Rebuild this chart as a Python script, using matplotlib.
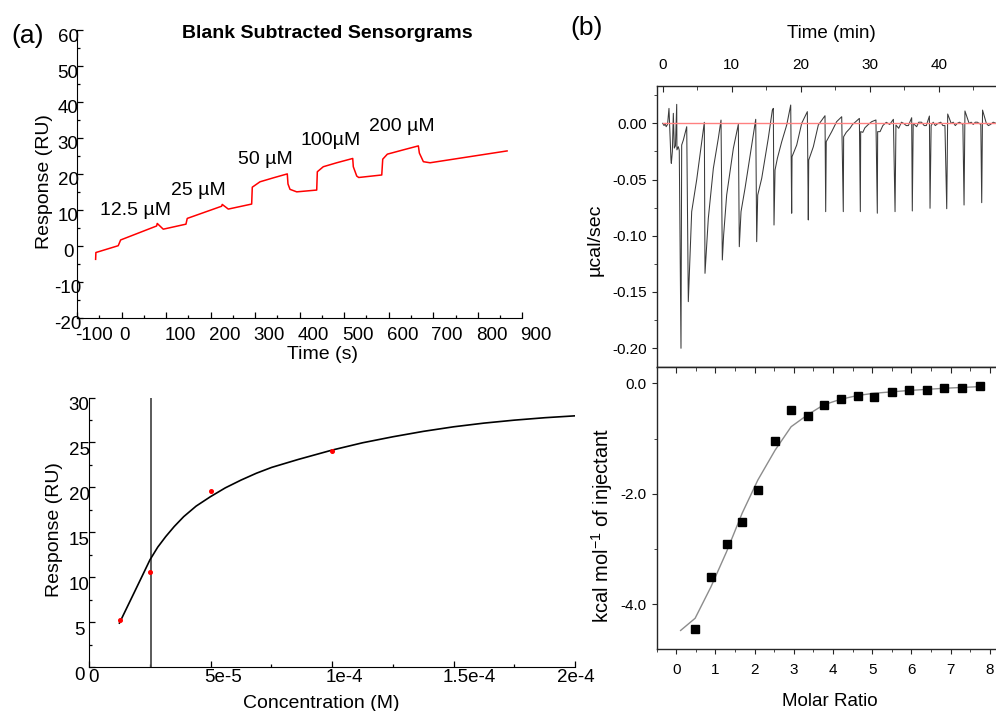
import matplotlib
matplotlib.use("Agg")
import matplotlib.pyplot as plt
from matplotlib.ticker import MultipleLocator, FormatStrFormatter
from matplotlib.transforms import ScaledTranslation, blended_transform_factory

plt.rcParams['font.family'] = ['Liberation Sans', 'DejaVu Sans']
plt.rcParams['axes.unicode_minus'] = False
plt.rcParams['mathtext.fontset'] = 'custom'
plt.rcParams['mathtext.rm'] = 'Liberation Sans'
plt.rcParams['mathtext.it'] = 'Liberation Sans:italic'
plt.rcParams['mathtext.bf'] = 'Liberation Sans:bold'

# ---------------- data ----------------
# (a) top: blank-subtracted sensorgram
spr_time = [-58.4, -57.8, -7.6, -2.2, 78.7, 80.0, 93.5, 144.5, 147.4, 224.7, 226.0,
            239.6, 292.1, 293.5, 310.8, 340.7, 372.1, 373.7, 378.2, 393.3, 438.2,
            439.6, 453.0, 483.1, 519.1, 520.4, 528.1, 532.6, 584.3, 586.5, 596.9,
            632.8, 666.5, 668.8, 677.8, 692.8, 865.8]
spr_signal = [-3.8, -1.9, 0.0, 1.6, 5.5, 6.2, 4.6, 6.0, 7.6, 11.0, 11.5,
              10.2, 11.6, 16.3, 17.8, 18.9, 20.0, 17.2, 15.7, 15.0, 15.5,
              20.6, 22.0, 23.1, 24.3, 22.0, 19.4, 19.0, 19.7, 24.1, 25.5,
              26.7, 27.8, 25.8, 23.4, 23.1, 26.4]
spr_conc_labels = ['12.5 µM', '25 µM', '50 µM', '100µM', '200 µM']
spr_xticks = [-100, 0, 100, 200, 300, 400, 500, 600, 700, 800, 900]
spr_xticklabels = ['-100', '0', '100', '200', '300', '400', '500', '600', '700', '800', '900']
spr_yticks = [-20, -10, 0, 10, 20, 30, 40, 50, 60]
spr_yticklabels = ['-20', '-10', '0', '10', '20', '30', '40', '50', '60']

# (a) bottom: steady-state affinity
aff_conc = [1.25e-5, 2.5e-5, 5e-5, 1e-4]
aff_resp = [5.2, 10.6, 19.6, 24.1]
aff_fit_conc = [1.244e-5, 1.55e-5, 1.84e-5, 2.17e-5, 2.50e-5, 2.82e-5, 3.15e-5, 3.50e-5,
                3.89e-5, 4.40e-5, 4.99e-5, 5.60e-5, 6.25e-5, 6.88e-5, 7.51e-5, 8.61e-5,
                1.0e-4, 1.125e-4, 1.25e-4, 1.375e-4, 1.5e-4, 1.625e-4, 1.75e-4, 1.875e-4, 2.0e-4]
aff_fit_resp = [4.89, 6.60, 8.22, 10.07, 11.93, 13.34, 14.52, 15.64,
                16.74, 17.91, 18.96, 19.94, 20.81, 21.57, 22.22, 23.11,
                24.15, 24.96, 25.63, 26.23, 26.74, 27.15, 27.48, 27.75, 27.96]
aff_kd_line = 2.55e-5
aff_xticks = [0, 5e-5, 1e-4, 1.5e-4, 2e-4]
aff_xticklabels = ['0', '5e-5', '1e-4', '1.5e-4', '2e-4']
aff_yticks = [0, 5, 10, 15, 20, 25, 30]
aff_yticklabels = ['0', '5', '10', '15', '20', '25', '30']

# (b) top: ITC raw thermogram (time in min, power in µcal/sec)
itc_time = [0.0, 0.2, 0.35, 0.5, 0.7, 0.91, 1.20, 1.25, 1.40, 1.54, 1.68, 1.85, 2.03, 2.06, 2.26, 2.40,
            2.65, 2.75, 2.99, 3.48,
            3.71, 4.20, 4.93, 5.65, 6.03,
            6.13, 6.61, 7.34, 8.06, 8.45,
            8.64, 8.83, 9.27, 10.24, 10.96,
            11.10, 11.35, 11.93, 12.90, 13.48,
            13.62, 13.77, 14.35, 15.30, 15.89, 16.03,
            16.13, 16.28, 16.62, 17.25, 17.97, 18.55,
            18.69, 18.74, 19.42, 20.14, 20.96,
            21.10, 21.16, 21.83, 22.55, 23.52,
            23.62, 23.70, 24.49, 25.21, 25.94,
            26.17, 26.22, 26.6, 27.14, 27.5, 27.87, 28.50,
            28.64, 28.69, 29.0, 29.30, 29.8, 30.29, 30.90,
            31.10, 31.15, 31.50, 31.9, 32.40, 32.9, 33.43,
            33.67, 33.80, 34.20, 34.6, 34.90, 35.3, 35.60, 36.08,
            36.17, 36.30, 36.80, 37.1, 37.50, 37.9, 38.20, 38.65,
            38.74, 38.90, 39.2, 39.50, 39.9, 40.30, 40.6, 40.90,
            41.16, 41.30, 41.80, 42.1, 42.40, 42.7, 43.00, 43.50,
            43.67, 43.80, 44.40, 44.7, 45.00, 45.3, 45.60, 46.10,
            46.23, 46.35, 46.90, 47.2, 47.50, 47.9, 48.30]
itc_power = [0.000, -0.002, 0.000, -0.003, -0.001, 0.0133, -0.0327, -0.0356, -0.025, 0.0089, -0.022, -0.020, 0.0169, -0.0236, -0.0208, -0.024,
             -0.2002, -0.0193, -0.0149, -0.003,
             -0.1587, -0.0786, -0.050, -0.0163, 0.0009,
             -0.1335, -0.0845, -0.040, -0.0133, 0.0029,
             -0.1216, -0.0994, -0.0638, -0.0222, -0.0009,
             -0.1098, -0.0786, -0.0578, -0.0193, 0.0036,
             -0.1053, -0.0638, -0.0489, -0.0133, 0.0118, 0.0133,
             -0.0905, -0.0415, -0.0311, -0.0163, -0.0015, 0.0163,
             -0.080, -0.0297, -0.0193, 0.0, 0.0104,
             -0.086, -0.0327, -0.0208, -0.0015, 0.0068,
             -0.0786, -0.0163, -0.0074, 0.0015, 0.0059,
             -0.0786, -0.0119, -0.008, -0.0044, -0.001, 0.0009, 0.0044,
             -0.0786, -0.0074, -0.008, -0.004, -0.001, 0.0015, 0.003,
             -0.080, -0.0074, -0.0074, -0.002, 0.0009, -0.001, 0.0036,
             -0.0786, -0.0015, -0.0044, 0.001, 0.0, -0.002, -0.002, 0.005,
             -0.078, 0.000, -0.003, 0.001, 0.001, -0.002, -0.002, 0.0065,
             -0.0756, -0.002, 0.001, -0.002, 0.0, 0.001, -0.002, -0.002,
             -0.076, 0.0083, 0.0, 0.001, -0.002, 0.0, 0.001, -0.001,
             -0.0727, 0.011, 0.0, 0.001, -0.001, 0.001, 0.001, -0.001,
             -0.0706, 0.0118, 0.0, -0.002, -0.001, 0.001, 0.0]
itc_baseline_time = [0.0, 48.3]
itc_baseline_power = [0.0, 0.0]

# (b) bottom: integrated heats
itc_ratio = [0.477, 0.885, 1.29, 1.68, 2.08, 2.52, 2.93, 3.35, 3.76, 4.19, 4.63, 5.05,
             5.50, 5.94, 6.39, 6.84, 7.29, 7.75]
itc_heat = [-4.44, -3.50, -2.91, -2.51, -1.93, -1.04, -0.49, -0.59, -0.39, -0.28, -0.235, -0.25,
            -0.16, -0.13, -0.13, -0.085, -0.08, -0.05]
itc_fit_ratio = [0.11, 0.48, 0.885, 1.28, 1.68, 2.08, 2.52, 2.93, 3.35, 3.76, 4.19, 4.63,
                 5.05, 5.94, 6.84, 7.75]
itc_fit_heat = [-4.47, -4.25, -3.68, -3.05, -2.35, -1.75, -1.21, -0.785, -0.57, -0.39, -0.29, -0.22,
                -0.18, -0.13, -0.09, -0.06]

# ---------------- figure ----------------
W, H, DPI = 996, 711, 100
fig = plt.figure(figsize=(W / DPI, H / DPI), dpi=DPI)


def rect(l, t, r, b):
    return [l / W, 1 - b / H, (r - l) / W, (b - t) / H]


def shift(dx, dy):
    return ScaledTranslation(dx / DPI, dy / DPI, fig.dpi_scale_trans)


def fx(x):
    return x / W


def fy(y):
    return 1 - y / H


TICK_FS_A = 13.5
LAB_FS_A = 14

# ---- (a) top: sensorgram ----
ax1 = fig.add_axes(rect(77.1, 30.3, 522.3, 317.5))
ax1.plot(spr_time, spr_signal, color='#ff0000', lw=1.1)
ax1.set_xlim(-100, 900)
ax1.set_ylim(-20, 60)
for s in ['top', 'right']:
    ax1.spines[s].set_visible(False)
ax1.set_xticks(spr_xticks)
ax1.set_yticks(spr_yticks)
ax1.xaxis.set_minor_locator(MultipleLocator(50))
ax1.yaxis.set_minor_locator(MultipleLocator(5))
ax1.tick_params(which='both', direction='in', labelbottom=False, labelleft=False, width=0.9)
ax1.tick_params(which='major', length=4)
ax1.tick_params(which='minor', length=2.2)
xt1 = blended_transform_factory(ax1.transData, ax1.transAxes)
yt1 = blended_transform_factory(ax1.transAxes, ax1.transData)
for v, lab in zip(spr_xticks, spr_xticklabels):
    ax1.text(v, 0, lab, transform=xt1 + shift(-2, -9), ha='left', va='top',
             fontsize=TICK_FS_A, clip_on=False)
for v, lab in zip(spr_yticks, spr_yticklabels):
    ax1.text(0, v, lab, transform=yt1 + shift(-9, -11.3), ha='center', va='baseline',
             fontsize=TICK_FS_A, clip_on=False)

label_pos = [(-49.4, 9.9), (112, 15.5), (260.6, 23.9), (402.6, 29.2), (554.6, 33.1)]
for (t, v), lab in zip(label_pos, spr_conc_labels):
    ax1.text(t, v, lab, ha='left', va='center', fontsize=LAB_FS_A)

fig.text(fx(327.6), fy(37.7), 'Blank Subtracted Sensorgrams', ha='center', va='baseline',
         fontsize=14, fontweight='bold')
fig.text(fx(11.8), fy(42.7), '(a)', ha='left', va='baseline', fontsize=19)
fig.text(fx(44.8), fy(181.7), 'Response (RU)', rotation=90, ha='center', va='center',
         fontsize=LAB_FS_A)
fig.text(fx(322), fy(359), 'Time (s)', ha='center', va='baseline', fontsize=LAB_FS_A)

# ---- (a) bottom: affinity ----
ax2 = fig.add_axes(rect(89.2, 397.5, 575.2, 667))
ax2.axvline(aff_kd_line, color='#4d4d4d', lw=1.3)
ax2.plot(aff_fit_conc, aff_fit_resp, color='black', lw=1.2)
ax2.plot(aff_conc, aff_resp, 'o', color='#ff0000', ms=2.6, mec='#ff0000')
ax2.set_xlim(0, 2e-4)
ax2.set_ylim(0, 30)
for s in ['top', 'right']:
    ax2.spines[s].set_visible(False)
ax2.set_xticks(aff_xticks)
ax2.set_yticks(aff_yticks)
ax2.xaxis.set_minor_locator(MultipleLocator(2.5e-5))
ax2.yaxis.set_minor_locator(MultipleLocator(2.5))
ax2.tick_params(which='both', direction='in', labelbottom=False, labelleft=False, width=0.9)
ax2.tick_params(which='major', length=4)
ax2.tick_params(which='minor', length=2.2)
xt2 = blended_transform_factory(ax2.transData, ax2.transAxes)
yt2 = blended_transform_factory(ax2.transAxes, ax2.transData)
x_offsets = [4, 12, 12, 16, 1]
for v, lab, dx in zip(aff_xticks, aff_xticklabels, x_offsets):
    ax2.text(v, 0, lab, transform=xt2 + shift(dx, -2.5), ha='center', va='top',
             fontsize=TICK_FS_A, clip_on=False)
for v, lab in zip(aff_yticks, aff_yticklabels):
    ax2.text(0, v, lab, transform=yt2 + shift(-10, -12.5), ha='center', va='baseline',
             fontsize=TICK_FS_A, clip_on=False)
fig.text(fx(54.5), fy(530), 'Response (RU)', rotation=90, ha='center', va='center',
         fontsize=LAB_FS_A)
fig.text(fx(321), fy(707.5), 'Concentration (M)', ha='center', va='baseline', fontsize=LAB_FS_A)

# ---- (b) top: thermogram ----
SP = '#262626'
ax3 = fig.add_axes(rect(656.7, 85.7, 996, 366.7))
ax3.plot(itc_time, itc_power, color='#3a3a3a', lw=0.75)
ax3.plot(itc_baseline_time, itc_baseline_power, color='#ff8080', lw=1.0)
ax3.set_xlim(-0.87, 48.3)
ax3.set_ylim(-0.2166, 0.0335)
ax3.spines['right'].set_visible(False)
for s in ['top', 'left', 'bottom']:
    ax3.spines[s].set_color(SP)
    ax3.spines[s].set_linewidth(1.0)
ax3.xaxis.set_major_locator(MultipleLocator(10))
ax3.xaxis.set_minor_locator(MultipleLocator(5))
ax3.yaxis.set_major_locator(MultipleLocator(0.05))
ax3.yaxis.set_minor_locator(MultipleLocator(0.025))
ax3.yaxis.set_major_formatter(FormatStrFormatter('%.2f'))
ax3.xaxis.tick_top()
ax3.tick_params(axis='x', which='both', direction='in', top=True, bottom=False,
                labeltop=True, labelbottom=False, labelsize=11, pad=10, color=SP)
ax3.tick_params(axis='x', which='major', length=4.3)
ax3.tick_params(axis='x', which='minor', length=2.8)
ax3.tick_params(axis='y', which='both', direction='out', left=True, right=False,
                labelsize=11, pad=3.2, color=SP)
ax3.tick_params(axis='y', which='major', length=3.6)
ax3.tick_params(axis='y', which='minor', length=2.4)

fig.text(fx(570), fy(34.8), '(b)', ha='left', va='baseline', fontsize=19)
fig.text(fx(831), fy(33.7), 'Time (min)', ha='center', va='center', fontsize=13.5)
fig.text(fx(595), fy(240), 'µcal/sec', rotation=90, ha='center', va='center', fontsize=14)

# ---- (b) bottom: binding isotherm ----
ax4 = fig.add_axes(rect(656.7, 366.7, 996, 648.7))
ax4.plot(itc_fit_ratio, itc_fit_heat, color='#8c8c8c', lw=1.0)
ax4.plot(itc_ratio, itc_heat, 's', color='black', ms=5.6)
ax4.set_xlim(-0.5, 8.156)
ax4.set_ylim(-4.80, 0.30)
ax4.spines['right'].set_visible(False)
for s in ['top', 'left', 'bottom']:
    ax4.spines[s].set_color(SP)
    ax4.spines[s].set_linewidth(1.0)
ax4.xaxis.set_major_locator(MultipleLocator(1))
ax4.xaxis.set_minor_locator(MultipleLocator(0.5))
ax4.yaxis.set_major_locator(MultipleLocator(2))
ax4.yaxis.set_minor_locator(MultipleLocator(1))
ax4.yaxis.set_major_formatter(FormatStrFormatter('%.1f'))
ax4.tick_params(axis='both', which='both', direction='out', top=False, right=False,
                labelsize=11, color=SP)
ax4.tick_params(axis='x', which='both', pad=7)
ax4.tick_params(axis='y', which='both', pad=3.6)
ax4.tick_params(which='major', length=3.6)
ax4.tick_params(which='minor', length=2.4)
sec = ax4.secondary_xaxis('top')
sec.xaxis.set_major_locator(MultipleLocator(1))
sec.xaxis.set_minor_locator(MultipleLocator(0.5))
sec.tick_params(axis='x', which='both', direction='in', labeltop=False, color=SP)
sec.tick_params(which='major', length=4.3)
sec.tick_params(which='minor', length=2.8)
sec.spines['top'].set_color(SP)

fig.text(fx(602.5), fy(525), r'kcal mol$^{\mathregular{-1}}$ of injectant', rotation=90,
         ha='center', va='center', fontsize=14.5)
fig.text(fx(830), fy(702), 'Molar Ratio', ha='center', va='center', fontsize=13.5)

fig.savefig('out.png', dpi=DPI)
